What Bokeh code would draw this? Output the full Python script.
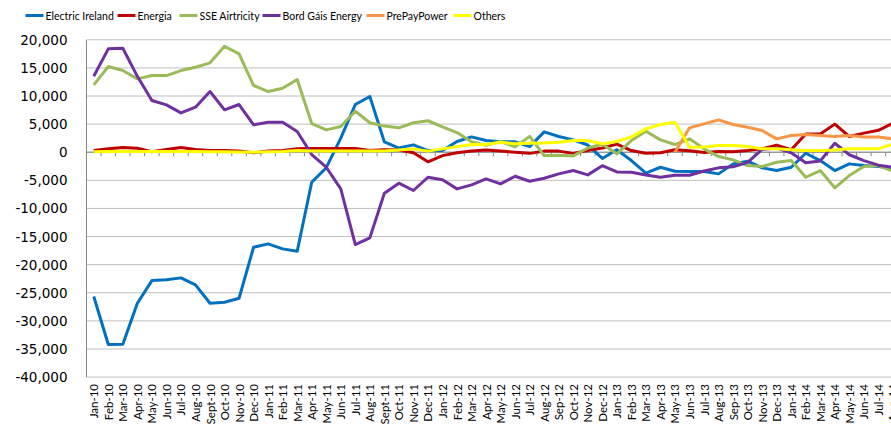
import math
from bokeh.plotting import figure
from bokeh.models import Range1d
from bokeh.core.properties import value
from bokeh.embed import file_html
from bokeh.resources import INLINE

# ---------------- data ----------------
months = ["Jan-10", "Feb-10", "Mar-10", "Apr-10", "May-10", "Jun-10", "Jul-10", "Aug-10", "Sept-10", "Oct-10", "Nov-10", "Dec-10",
          "Jan-11", "Feb-11", "Mar-11", "Apr-11", "May-11", "Jun-11", "Jul-11", "Aug-11", "Sept-11", "Oct-11", "Nov-11", "Dec-11",
          "Jan-12", "Feb-12", "Mar-12", "Apr-12", "May-12", "Jun-12", "Jul-12", "Aug-12", "Sep-12", "Oct-12", "Nov-12", "Dec-12",
          "Jan-13", "Feb-13", "Mar-13", "Apr-13", "May-13", "Jun-13", "Jul-13", "Aug-13", "Sep-13", "Oct-13", "Nov-13", "Dec-13",
          "Jan-14", "Feb-14", "Mar-14", "Apr-14", "May-14", "Jun-14", "Jul-14", "Aug-14"]

electric_ireland = [-25670, -34210, -34150, -26860, -22830, -22700, -22350, -23600, -26860, -26680, -25970, -16900,
                    -16300, -17190, -17610, -5340, -2750, 2500, 8490, 9910, 1850, 750, 1310, 300,
                    300, 1900, 2730, 2080, 1850, 1850, 1000, 3620, 2790, 2200, 1280, -1100,
                    430, -1480, -3730, -2670, -3380, -3440, -3440, -3850, -2070, -1600, -2780, -3260,
                    -2670, -180, -1480, -3260, -2070, -2370, -2550, -2780]
energia = [300, 600, 850, 700, 100, 500, 850, 500, 300, 300, 200, -100,
           200, 300, 600, 650, 650, 650, 650, 300, 450, 400, -100, -1700,
           -600, -100, 200, 400, 200, 0, -200, 200, 200, -200, 300, 750,
           1450, 300, -180, -100, 450, 250, -50, 150, 100, 300, 600, 1250,
           450, 3250, 3250, 5000, 2800, 3400, 3900, 5150]
sse_airtricity = [11990, 15250, 14530, 13050, 13640, 13640, 14530, 15120, 15900, 18860, 17500, 11870,
                  10800, 11390, 12930, 5100, 3980, 4570, 7290, 5250, 4650, 4340, 5250, 5600,
                  4500, 3500, 1850, 1250, 1900, 950, 2820, -590, -550, -650, 750, 1430,
                  -290, 2080, 3740, 2200, 1370, 2380, 600, -770, -1360, -2370, -2540, -1780,
                  -1480, -4450, -3260, -6330, -4150, -2540, -2370, -3380]
bord_gais = [13520, 18390, 18500, 13500, 9200, 8430, 7000, 8010, 10800, 7540, 8490, 4870,
             5340, 5340, 3700, -410, -2670, -6520, -16420, -15230, -7290, -5510, -6810, -4450,
             -4910, -6520, -5800, -4730, -5620, -4270, -5160, -4620, -3850, -3260, -4030, -2400,
             -3500, -3560, -4060, -4450, -4090, -4090, -3350, -2780, -2600, -1800, 500, 750,
             -100, -1870, -1540, 1600, -450, -1500, -2300, -2660]
# PrePayPower has no values before May-13
prepaypower = [None] * 40 + [0, 4340, 5050, 5760, 4930, 4450, 3860, 2380,
                             2970, 3150, 2970, 2790, 2970, 2700, 2700, 2380]
others = [100, 150, 150, 150, 150, 150, 150, 150, 100, 100, 50, 0,
          100, 150, 300, 200, 200, 200, 200, 200, 200, 400, 600, 200,
          600, 1000, 1370, 1370, 1780, 1490, 1600, 1650, 1780, 2080, 2080, 1490,
          1900, 2730, 4160, 4930, 5340, 890, 950, 1190, 1190, 1010, 600, 600,
          430, 300, 300, 400, 600, 600, 600, 1490]

series_names = ["Electric Ireland", "Energia", "SSE Airtricity", "Bord Gáis Energy", "PrePayPower", "Others"]
series_values = [electric_ireland, energia, sse_airtricity, bord_gais, prepaypower, others]
series_colors = ["#0070C0", "#C00000", "#9BBB59", "#7030A0", "#F79646", "#FFFF00"]

y_ticks = list(range(-40000, 20001, 5000))
y_min, y_max = -40000, 20000

# ---------------- layout (pixels inside the figure) ----------------
W, H = 891, 431
PLOT_LEFT = 86.0        # left edge of plot area
PLOT_TOP = 39.3         # y of the 20,000 gridline
PLOT_BOTTOM = 376.6     # y of the -40,000 gridline
CAT_W = 14.53           # width of one month
YLAB_RIGHT = 67.0       # right edge of the y tick labels
XLAB_TOP = 383.5        # top of the rotated month labels
LEGEND_Y = 15.0
LEGEND_X = [25, 117, 179, 262, 366, 453]   # left of each legend swatch
SWATCH = 18
GAP = 2

kx = CAT_W
ky = (PLOT_BOTTOM - PLOT_TOP) / (y_max - y_min)
x_lo = -0.5 - PLOT_LEFT / kx
x_hi = x_lo + W / kx
y_hi = y_max + PLOT_TOP / ky
y_lo = y_hi - H / ky

def px_x(px):
    return x_lo + px / kx

def px_y(py):
    return y_hi - py / ky

n = len(months)
x_all = list(range(n))
left_edge = -0.5
right_edge = n - 0.5

p = figure(width=W, height=H, output_backend="svg", toolbar_location=None,
           x_range=Range1d(x_lo, x_hi), y_range=Range1d(y_lo, y_hi),
           x_axis_location=None, y_axis_location=None,
           min_border_left=0, min_border_right=0, min_border_top=0, min_border_bottom=0)
p.outline_line_color = None
p.grid.visible = False
p.background_fill_color = "white"
p.border_fill_color = "white"

# horizontal gridlines
p.segment(x0=[left_edge] * len(y_ticks), x1=[right_edge] * len(y_ticks), y0=y_ticks, y1=y_ticks,
          line_color="#BFBFBF", line_width=1)
# vertical axis line
p.segment(x0=[left_edge], x1=[left_edge], y0=[y_min], y1=[y_max], line_color="#868686", line_width=1)
# horizontal axis (at zero) with tick marks between months
p.segment(x0=[left_edge], x1=[right_edge], y0=[0], y1=[0], line_color="#868686", line_width=1)
mids = [i + 0.5 for i in x_all[:-1]]
tick_len = 4 / ky
p.segment(x0=mids, y0=[0] * len(mids), x1=mids, y1=[-tick_len] * len(mids),
          line_color="#868686", line_width=1)

# y tick labels
p.text(x=[px_x(YLAB_RIGHT)] * len(y_ticks), y=y_ticks, text=[f"{t:,}" for t in y_ticks],
       text_align="right", text_baseline="middle", text_font=value("DejaVu Sans"),
       text_font_size="13.5px", text_color="#000000")

# month labels (rotated)
p.text(x=x_all, y=[px_y(XLAB_TOP)] * n, text=months, angle=math.pi / 2,
       text_align="right", text_baseline="middle", text_font=value("Lato"),
       text_font_size="11.5px", text_color="#000000")

# series lines
for name, vals, color in zip(series_names, series_values, series_colors):
    xs = [i for i, v in zip(x_all, vals) if v is not None]
    ys = [v for v in vals if v is not None]
    p.line(xs, ys, line_color=color, line_width=3, line_join="round")

# legend
ly = px_y(LEGEND_Y)
p.segment(x0=[px_x(lx) for lx in LEGEND_X], x1=[px_x(lx + SWATCH) for lx in LEGEND_X],
          y0=[ly] * len(LEGEND_X), y1=[ly] * len(LEGEND_X), line_color=series_colors, line_width=3)
p.text(x=[px_x(lx + SWATCH + GAP) for lx in LEGEND_X], y=[ly] * len(LEGEND_X), text=series_names,
       text_align="left", text_baseline="middle", text_font=value("Lato"),
       text_font_size="10.5px", text_color="#000000")

open("out.html", "w").write(file_html(p, INLINE))
